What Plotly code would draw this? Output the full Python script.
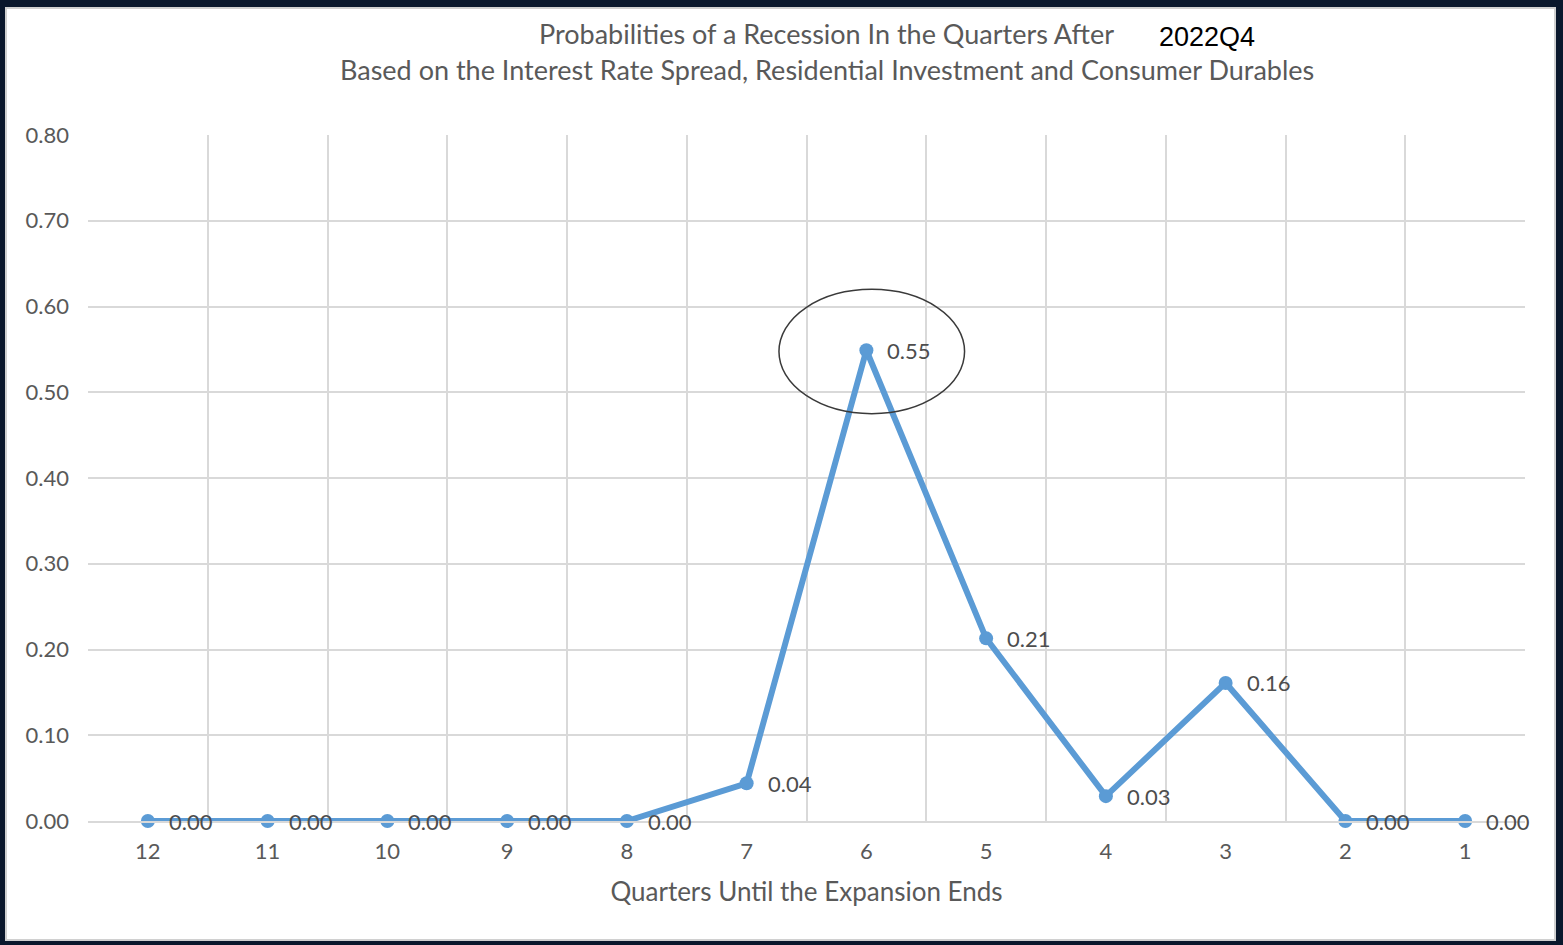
import plotly.graph_objects as go

# Quarters until the expansion ends and the estimated recession probability
quarters = ["12", "11", "10", "9", "8", "7", "6", "5", "4", "3", "2", "1"]
probabilities = [0.0, 0.0, 0.0, 0.0, 0.0, 0.044, 0.549, 0.213, 0.029, 0.161, 0.0, 0.0]
y_ticks = [0.0, 0.1, 0.2, 0.3, 0.4, 0.5, 0.6, 0.7, 0.8]

W, H = 1563, 945
L, R, T, B = 88, 38, 135, 124
pw, ph = W - L - R, H - T - B

def px_x(p):
    return (p - L) / pw

def px_y(p):
    return (H - B - p) / ph

FONT = "Lato"
GRAY = "#595959"
LINE_BLUE = "#5b9bd5"

fig = go.Figure()
fig.add_trace(go.Scatter(
    x=quarters,
    y=probabilities,
    mode="lines+markers",
    line=dict(color=LINE_BLUE, width=6),
    marker=dict(color=LINE_BLUE, size=14),
    cliponaxis=False,
    hoverinfo="x+y",
    showlegend=False,
))

# value labels to the right of each point (category axis: position by index)
for i, v in enumerate(probabilities):
    fig.add_annotation(x=i, y=v, text=f"{v:.2f}", showarrow=False,
                       xanchor="left", yanchor="middle", xshift=19,
                       font=dict(family=FONT, size=22, color="#4d4d4d"))

# white chart panel with thin light frame on the dark page
fig.add_shape(type="rect", xref="paper", yref="paper",
              x0=px_x(6), x1=px_x(1555), y0=px_y(940), y1=px_y(8),
              fillcolor="white", line=dict(color="#d0d0d0", width=2),
              layer="below")

# ellipse highlighting the peak probability
peak_i = max(range(len(probabilities)), key=lambda i: probabilities[i])
peak_v = probabilities[peak_i]
fig.add_shape(type="circle", xref="x", yref="y",
              x0=peak_i - 0.73, x1=peak_i + 0.82,
              y0=peak_v - 0.074, y1=peak_v + 0.071,
              line=dict(color="#3a3a3a", width=1.5), layer="above")

fig.add_annotation(xref="paper", yref="paper", x=px_x(827), y=px_y(34),
                   text="Probabilities of a Recession In the Quarters After",
                   showarrow=False, xanchor="center", yanchor="middle",
                   font=dict(family=FONT, size=27, color=GRAY))
fig.add_annotation(xref="paper", yref="paper", x=px_x(1157), y=px_y(37),
                   text="2022Q4", showarrow=False, xanchor="left", yanchor="middle",
                   font=dict(family="Liberation Sans", size=27, color="#000000"))
fig.add_annotation(xref="paper", yref="paper", x=px_x(827), y=px_y(69),
                   text="Based on the Interest Rate Spread, Residential Investment and Consumer Durables",
                   showarrow=False, xanchor="center", yanchor="middle",
                   font=dict(family=FONT, size=27, color=GRAY))

fig.update_layout(
    width=W, height=H,
    margin=dict(l=L, r=R, t=T, b=B, pad=0),
    paper_bgcolor="#0a172c",
    plot_bgcolor="white",
    font=dict(family=FONT, color=GRAY),
)
fig.update_xaxes(
    type="category", range=[-0.5, len(quarters) - 0.5],
    tickson="boundaries", ticks="", showgrid=True,
    gridcolor="#d9d9d9", gridwidth=2,
    showline=True, linecolor="#d9d9d9", linewidth=2, mirror=False,
    tickfont=dict(family=FONT, size=22, color=GRAY),
    ticklabelstandoff=10,
    title=dict(text="Quarters Until the Expansion Ends",
               font=dict(family=FONT, size=26, color=GRAY), standoff=19),
)
fig.update_yaxes(
    range=[0, 0.8], tickvals=y_ticks, tickformat=".2f",
    ticks="", showgrid=True, gridcolor="#d9d9d9", gridwidth=2,
    zeroline=False, showline=False,
    tickfont=dict(family=FONT, size=22, color=GRAY),
    ticklabelstandoff=18,
)

fig.write_html("out.html")
